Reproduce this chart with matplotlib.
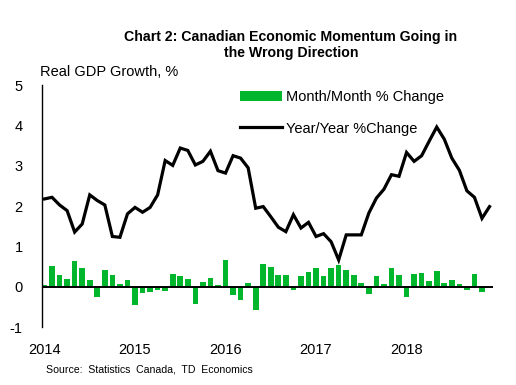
import matplotlib
matplotlib.use("Agg")
import matplotlib.pyplot as plt
import numpy as np

plt.rcParams['font.family'] = ['Liberation Sans', 'DejaVu Sans']

# Month/Month % change, Jan 2014 - Nov 2018
mom = [0.05, 0.52, 0.30, 0.21, 0.64, 0.47, 0.17, -0.24, 0.42, 0.30, 0.07, 0.17,
       -0.44, -0.14, -0.12, -0.07, -0.10, 0.33, 0.27, 0.20, -0.41, 0.12, 0.22, 0.05,
       0.67, -0.19, -0.31, 0.10, -0.56, 0.57, 0.50, 0.30, 0.30, -0.07, 0.27, 0.37,
       0.47, 0.27, 0.47, 0.55, 0.42, 0.30, 0.10, -0.17, 0.27, 0.07, 0.47, 0.30,
       -0.24, 0.32, 0.35, 0.15, 0.40, 0.10, 0.17, 0.07, -0.07, 0.32, -0.12]
# Year/Year % change, Jan 2014 - Dec 2018
yoy = [2.18, 2.22, 2.03, 1.89, 1.36, 1.56, 2.28, 2.14, 2.03, 1.25, 1.23, 1.81,
       1.97, 1.85, 1.97, 2.28, 3.13, 3.01, 3.44, 3.38, 3.02, 3.11, 3.36, 2.88,
       2.82, 3.25, 3.19, 2.95, 1.95, 1.99, 1.74, 1.48, 1.37, 1.79, 1.46, 1.60,
       1.25, 1.32, 1.12, 0.67, 1.29, 1.29, 1.29, 1.83, 2.20, 2.42, 2.78, 2.74,
       3.33, 3.11, 3.25, 3.61, 3.96, 3.66, 3.19, 2.89, 2.38, 2.22, 1.70, 1.99]
year_labels = ["2014", "2015", "2016", "2017", "2018"]
y_ticks = [-1, 0, 1, 2, 3, 4, 5]

W, H = 516, 385
fig = plt.figure(figsize=(W / 100, H / 100), dpi=100)
ax = fig.add_axes([42 / W, 1 - 327.4 / H, (493.3 - 42) / W, (327.4 - 85) / H])

green = '#00b62d'
x_bar = np.arange(len(mom))
x_line = np.arange(len(yoy))
bars = ax.bar(x_bar, mom, width=0.75, color=green, label='Month/Month % Change', zorder=2)
ax.axhline(0, color='black', lw=1.4, zorder=3)
line, = ax.plot(x_line, yoy, color='black', lw=2.3, solid_joinstyle='miter',
                label='Year/Year %Change', zorder=4)

ax.set_xlim(-0.33, 59.5)
ax.set_ylim(-1, 5)
ax.set_yticks(y_ticks)
ax.set_yticklabels([str(v) for v in y_ticks], fontsize=10.5)
ax.set_xticks([0, 12, 24, 36, 48])
ax.set_xticklabels(year_labels, fontsize=10.5)
ax.tick_params(axis='y', length=0, pad=14)
ax.tick_params(axis='x', length=0, pad=11)
for s in ['top', 'right', 'bottom']:
    ax.spines[s].set_visible(False)
ax.spines['left'].set_linewidth(1.0)

leg = ax.legend(handles=[bars, line], loc='upper left', bbox_to_anchor=(240 / W, 1 - 90 / H),
                bbox_transform=fig.transFigure, frameon=False, fontsize=10.5,
                handlelength=2.9, handletextpad=0.25, labelspacing=1.2,
                borderpad=0, borderaxespad=0)

fig.text(291 / W, 1 - 37.5 / H, "Chart 2: Canadian Economic Momentum Going in",
         ha='center', va='center', fontsize=10.2, fontweight='bold')
fig.text(291 / W, 1 - 52.5 / H, "the Wrong Direction",
         ha='center', va='center', fontsize=10.2, fontweight='bold')
fig.text(40 / W, 1 - 72 / H, "Real GDP Growth, %", ha='left', va='center', fontsize=10.5)
fig.text(46 / W, 1 - 369 / H, "Source:  Statistics  Canada,  TD  Economics",
         ha='left', va='center', fontsize=7.6)

fig.savefig("out.png", dpi=100)
